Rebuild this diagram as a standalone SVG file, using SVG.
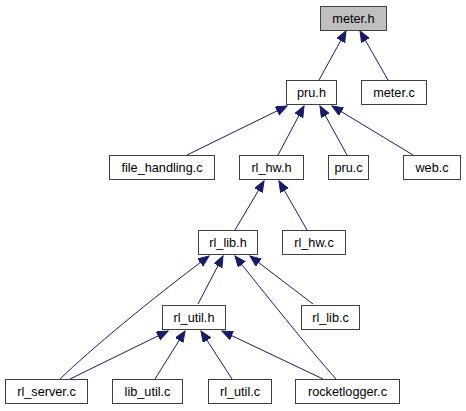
<svg xmlns="http://www.w3.org/2000/svg" width="466" height="411" viewBox="0 0 466 411">
<style>
.n rect{fill:#ffffff;stroke:#404040;stroke-width:1}
.n text{font-family:"Liberation Sans",Arial,sans-serif;font-size:12.7px;fill:#000000;text-anchor:middle}
.e path{fill:none;stroke:#191970;stroke-width:1}
</style>
<defs>
<marker id="ah" markerUnits="userSpaceOnUse" markerWidth="12" markerHeight="10" refX="11" refY="4.5" orient="auto">
<path d="M0,0 L11,4.5 L0,9 z" fill="#191970" stroke="#191970" stroke-width="1"/>
</marker>
</defs>
<rect width="466" height="411" fill="#ffffff"/>
<g id="connectors" class="e">
<path d="M319,80 L346,31" marker-end="url(#ah)"/>
<path d="M388,80 L360,31" marker-end="url(#ah)"/>
<path d="M187,155 L287,106" marker-end="url(#ah)"/>
<path d="M278,155 L304,106" marker-end="url(#ah)"/>
<path d="M347,155 L320,106" marker-end="url(#ah)"/>
<path d="M413,155 L332,106" marker-end="url(#ah)"/>
<path d="M235,230 L264,181" marker-end="url(#ah)"/>
<path d="M307,230 L279,181" marker-end="url(#ah)"/>
<path d="M60,379 C90,350 150,300 209,256" marker-end="url(#ah)"/>
<path d="M198,304 L223,256" marker-end="url(#ah)"/>
<path d="M336,379 C310,350 262,290 235,256" marker-end="url(#ah)"/>
<path d="M313,304 L250,256" marker-end="url(#ah)"/>
<path d="M70,379 L168,331" marker-end="url(#ah)"/>
<path d="M155,379 L185,331" marker-end="url(#ah)"/>
<path d="M232,379 L201,331" marker-end="url(#ah)"/>
<path d="M323,379 L222,331" marker-end="url(#ah)"/>
</g>
<g id="meter_h" class="n"><rect x="320.5" y="6.5" width="66" height="24" style="fill:#bfbfbf"/><text x="353.5" y="23">meter.h</text></g>
<g id="pru_h" class="n"><rect x="286.5" y="80.5" width="50" height="24"/><text x="311.5" y="97">pru.h</text></g>
<g id="meter_c" class="n"><rect x="361.5" y="80.5" width="65" height="24"/><text x="394" y="97">meter.c</text></g>
<g id="file_handling_c" class="n"><rect x="109.5" y="155.5" width="105" height="24"/><text x="162" y="172">file_handling.c</text></g>
<g id="rl_hw_h" class="n"><rect x="239.5" y="155.5" width="64" height="24"/><text x="271.5" y="172">rl_hw.h</text></g>
<g id="pru_c" class="n"><rect x="328.5" y="155.5" width="40" height="24"/><text x="348.5" y="172">pru.c</text></g>
<g id="web_c" class="n"><rect x="403.5" y="155.5" width="57" height="24"/><text x="432" y="172">web.c</text></g>
<g id="rl_lib_h" class="n"><rect x="198.5" y="230.5" width="59" height="24"/><text x="228" y="247">rl_lib.h</text></g>
<g id="rl_hw_c" class="n"><rect x="282.5" y="230.5" width="63" height="24"/><text x="314" y="247">rl_hw.c</text></g>
<g id="rl_util_h" class="n"><rect x="162.5" y="305.5" width="63" height="24"/><text x="194" y="322">rl_util.h</text></g>
<g id="rl_lib_c" class="n"><rect x="301.5" y="305.5" width="58" height="24"/><text x="330.5" y="322">rl_lib.c</text></g>
<g id="rl_server_c" class="n"><rect x="5.5" y="379.5" width="82" height="24"/><text x="46.5" y="396">rl_server.c</text></g>
<g id="lib_util_c" class="n"><rect x="112.5" y="379.5" width="70" height="24"/><text x="147.5" y="396">lib_util.c</text></g>
<g id="rl_util_c" class="n"><rect x="208.5" y="379.5" width="63" height="24"/><text x="240" y="396">rl_util.c</text></g>
<g id="rocketlogger_c" class="n"><rect x="295.5" y="379.5" width="104" height="24"/><text x="347.5" y="396">rocketlogger.c</text></g>
</svg>
